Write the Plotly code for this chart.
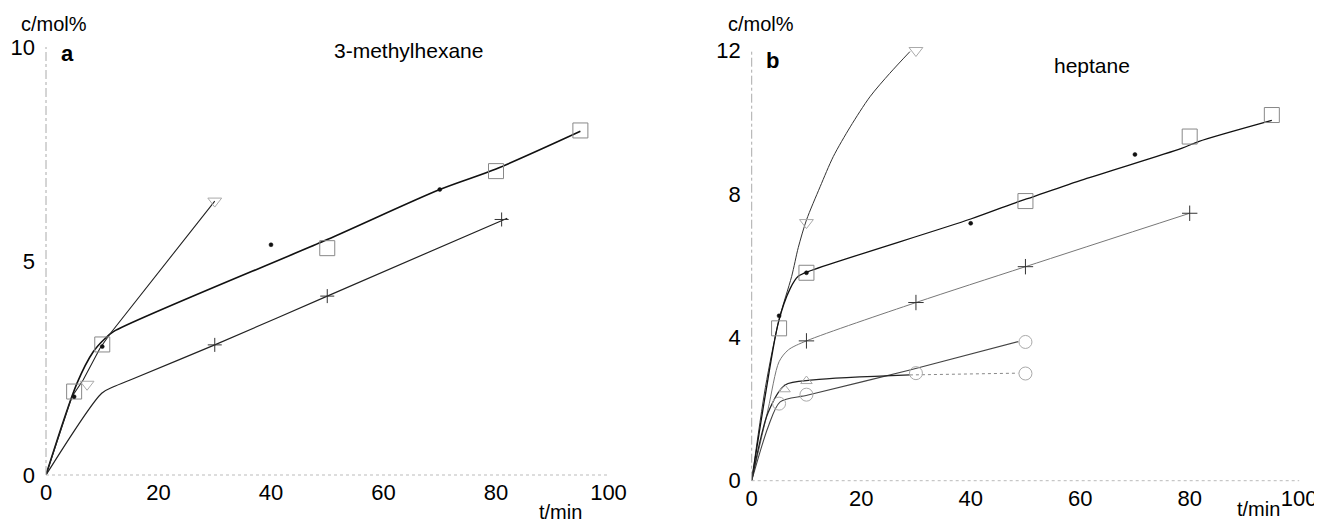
import plotly.graph_objects as go

# The page body has an 8px margin, so the figure is laid out in
# window pixels shifted by OFF.
OFF = 8
W, H = 1322 - OFF, 525 - OFF
FONT = "Liberation Sans, Arial, Helvetica, sans-serif"

# ---------------- panel a : 3-methylhexane ----------------
a_xticks = [0, 20, 40, 60, 80, 100]
a_yticks = [0, 5, 10]

a_sq_t = [5, 10, 50, 80, 95]
a_sq_c = [1.95, 3.05, 5.3, 7.1, 8.05]
a_dot_t = [5, 10, 40, 70]
a_dot_c = [1.83, 3.0, 5.38, 6.67]
a_tri_t = [7.3, 30]
a_tri_c = [2.12, 6.4]
a_plus_t = [30, 50, 81]
a_plus_c = [3.04, 4.18, 5.97]

a_curve1_t = [0, 5.5, 8.4, 10.5, 12, 50, 70, 80, 95]
a_curve1_c = [0, 2.14, 2.88, 3.19, 3.35, 5.5, 6.67, 7.15, 8.03]
a_curve2_t = [0, 4.6, 6.6, 9.6, 11.4, 30]
a_curve2_c = [0, 1.83, 2.22, 2.96, 3.3, 6.4]
a_curve3_t = [0, 9.9, 12, 15.5, 30, 50, 82]
a_curve3_c = [0, 1.91, 2.06, 2.25, 3.04, 4.18, 6.0]

# ---------------- panel b : heptane ----------------
b_xticks = [0, 20, 40, 60, 80, 100]
b_yticks = [0, 4, 8, 12]

b_sq_t = [5, 10, 50, 80, 95]
b_sq_c = [4.25, 5.8, 7.8, 9.6, 10.2]
b_dot_t = [5, 10, 40, 70]
b_dot_c = [4.6, 5.8, 7.18, 9.1]
b_tri_t = [10, 30]
b_tri_c = [7.2, 12.0]
b_plus_t = [10, 30, 50, 80]
b_plus_c = [3.9, 4.97, 5.97, 7.46]
b_circ_t = [5, 10, 30, 50, 50]
b_circ_c = [2.15, 2.4, 3.0, 3.87, 2.99]
b_tril_t = [6, 10]
b_tril_c = [2.55, 2.78]

b_top_t = [0, 2.5, 5, 7.3, 8.5, 10, 12.5, 14.9, 18, 21.6, 25.2, 28.9]
b_top_c = [0, 2.6, 4.5, 5.7, 6.5, 7.27, 8.2, 9.04, 9.87, 10.71, 11.36, 11.97]
b_sqc_t = [0, 2.5, 4.9, 7, 8.5, 11, 40, 48.6, 51.4, 61.2, 78.5, 81.6, 95]
b_sqc_c = [0, 2.4, 4.43, 5.35, 5.7, 5.87, 7.3, 7.78, 7.92, 8.43, 9.27, 9.46, 10.05]
b_plc_t = [0, 3, 5, 6.7, 10, 30, 50, 80]
b_plc_c = [0, 2.0, 3.32, 3.65, 3.9, 4.97, 5.97, 7.46]
b_trc_t = [0, 3, 5.2, 10.3, 28.9, 48.7]
b_trc_c = [0, 1.5, 2.2, 2.39, 3.09, 3.88]
b_cic_t = [0, 3, 6.1, 11.3, 28.9]
b_cic_c = [0, 1.9, 2.67, 2.81, 2.95]
b_cid_t = [28.9, 48.7]
b_cid_c = [2.95, 3.0]

fig = go.Figure()

def line(x, y, xa, ya, color="#111", width=1.3, dash="solid", shape="spline"):
    fig.add_trace(go.Scatter(x=x, y=y, xaxis=xa, yaxis=ya, mode="lines",
                             line=dict(color=color, width=width, dash=dash,
                                       shape=shape, smoothing=0.8),
                             showlegend=False, hoverinfo="skip", cliponaxis=False))

def marks(x, y, xa, ya, symbol, size, color="#999", lw=1.0):
    fig.add_trace(go.Scatter(x=x, y=y, xaxis=xa, yaxis=ya, mode="markers",
                             marker=dict(symbol=symbol, size=size, color=color,
                                         line=dict(color=color, width=lw)),
                             showlegend=False, hoverinfo="skip", cliponaxis=False))

# panel a
line(a_curve1_t, a_curve1_c, "x", "y", "#111", 1.6)
line(a_curve2_t, a_curve2_c, "x", "y", "#222", 1.1, shape="linear")
line(a_curve3_t, a_curve3_c, "x", "y", "#222", 1.2)
marks(a_sq_t, a_sq_c, "x", "y", "square-open", 15, "#888", 1.0)
marks(a_tri_t, a_tri_c, "x", "y", "triangle-down-open", 12, "#aaa", 1.0)
marks(a_plus_t, a_plus_c, "x", "y", "cross-thin-open", 10, "#333", 1.0)
marks(a_dot_t, a_dot_c, "x", "y", "circle", 4, "#111", 0.5)

# panel b
line(b_top_t, b_top_c, "x2", "y2", "#333", 1.0)
line(b_sqc_t, b_sqc_c, "x2", "y2", "#111", 1.3)
line(b_plc_t, b_plc_c, "x2", "y2", "#777", 1.0)
line(b_trc_t, b_trc_c, "x2", "y2", "#444", 1.1)
line(b_cic_t, b_cic_c, "x2", "y2", "#222", 1.3)
line(b_cid_t, b_cid_c, "x2", "y2", "#888", 1.0, "dot", "linear")
marks(b_sq_t, b_sq_c, "x2", "y2", "square-open", 15, "#888", 1.0)
marks(b_tri_t, b_tri_c, "x2", "y2", "triangle-down-open", 12, "#aaa", 1.0)
marks(b_plus_t, b_plus_c, "x2", "y2", "cross-thin-open", 11, "#333", 1.0)
marks(b_circ_t, b_circ_c, "x2", "y2", "circle-open", 13, "#aaa", 1.0)
marks(b_tril_t, b_tril_c, "x2", "y2", "triangle-up-open", 10, "#aaa", 1.0)
marks(b_dot_t, b_dot_c, "x2", "y2", "circle", 4, "#111", 0.5)

tickfont = dict(family=FONT, size=22, color="#000")
axx = dict(range=[0, 100], showgrid=False, zeroline=False, showline=False,
           ticks="", tickfont=tickfont, fixedrange=True, automargin=False,
           ticklabelstandoff=2)
axy = dict(showgrid=False, zeroline=False, showline=False, ticks="",
           tickfont=tickfont, fixedrange=True, automargin=False,
           ticklabelstandoff=10)

def dx(X):  # window pixel -> paper fraction (x)
    return (X - OFF) / W

def dy(Y):  # window pixel -> paper fraction (y)
    return (H - (Y - OFF)) / H

fig.update_layout(
    width=W, height=H, margin=dict(l=0, r=0, t=0, b=0, autoexpand=False),
    paper_bgcolor="white", plot_bgcolor="white",
    xaxis=dict(axx, domain=[dx(46), dx(608.5)], tickvals=a_xticks, anchor="y"),
    yaxis=dict(axy, domain=[dy(475), dy(47)], range=[0, 10],
               tickvals=a_yticks, anchor="x"),
    xaxis2=dict(axx, domain=[dx(751.7), dx(1299.2)], tickvals=b_xticks, anchor="y2"),
    yaxis2=dict(axy, domain=[dy(480.7), dy(50.5)], range=[0, 12],
                tickvals=b_yticks, anchor="x2"),
)

# faint dotted / dashed axis lines
for xa, ya in (("x", "y"), ("x2", "y2")):
    fig.add_shape(type="line", xref=xa + " domain", yref=ya + " domain",
                  x0=0, x1=1, y0=0, y1=0, line=dict(color="#bbb", width=1, dash="dot"))
    fig.add_shape(type="line", xref=xa + " domain", yref=ya + " domain",
                  x0=0, x1=0, y0=0, y1=1, line=dict(color="#aaa", width=1, dash="dashdot"))

def ann(text, X, Y, size=21, bold=False):
    fig.add_annotation(text=("<b>%s</b>" % text) if bold else text,
                       x=dx(X), y=dy(Y), xref="paper", yref="paper",
                       showarrow=False, xanchor="center", yanchor="middle",
                       font=dict(family=FONT, size=size, color="#000"))

ann("c/mol%", 54, 24, 20)
ann("a", 67, 53, 22, True)
ann("3-methylhexane", 408, 50)
ann("t/min", 560, 512, 20)
ann("c/mol%", 761, 24, 20)
ann("b", 772, 60, 22, True)
ann("heptane", 1092, 65)
ann("t/min", 1258, 509, 20)

fig.write_html("out.html")
